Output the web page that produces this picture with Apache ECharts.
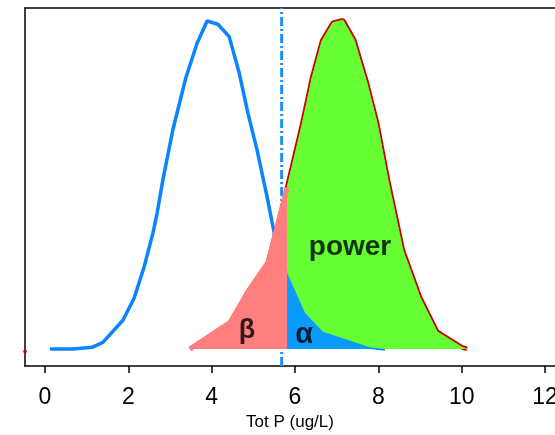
<!DOCTYPE html>
<html>
<head>
<meta charset="utf-8">
<script src="https://cdn.jsdelivr.net/npm/echarts@6/dist/echarts.min.js"></script>
<style>
  html, body { margin: 0; padding: 0; background: #fff; }
  #chart { width: 555px; height: 435px; }
</style>
</head>
<body>
<div id="chart"></div>
<script>
// null distribution (blue line)
var nullX = [0.12, 0.67, 1.13, 1.39, 1.87, 2.14, 2.38, 2.59, 2.69, 2.83, 3.07, 3.38, 3.65, 3.89, 4.15, 4.42, 4.66, 4.87, 5.09, 5.33, 5.52, 5.78, 6.24, 6.67, 7.80, 8.16];
var nullY = [0, 0, 0.002, 0.008, 0.035, 0.062, 0.100, 0.141, 0.165, 0.206, 0.267, 0.330, 0.372, 0.399, 0.395, 0.380, 0.336, 0.287, 0.242, 0.185, 0.136, 0.096, 0.044, 0.021, 0.002, 0];
// alternative distribution (red line)
var altX = [3.48, 4.44, 4.90, 5.35, 5.78, 6.17, 6.41, 6.65, 6.91, 7.15, 7.42, 7.73, 7.97, 8.23, 8.59, 9.00, 9.41, 10.01, 10.13];
var altY = [0, 0.032, 0.072, 0.105, 0.190, 0.273, 0.330, 0.375, 0.397, 0.400, 0.376, 0.323, 0.275, 0.206, 0.120, 0.063, 0.021, 0.002, 0];
// critical value
var critLine = 5.68;
var critFill = 5.81;
var xTicks = [0, 2, 4, 6, 8, 10, 12];

var yMin = -0.0207, yMax = 0.4148;

function pairs(xs, ys) {
    var out = [];
    for (var i = 0; i < xs.length; i++) out.push([xs[i], ys[i]]);
    return out;
}
// interpolate a curve at x
function valAt(xs, ys, x) {
    for (var i = 0; i < xs.length - 1; i++) {
        if (x >= xs[i] && x <= xs[i + 1]) {
            var t = (x - xs[i]) / (xs[i + 1] - xs[i]);
            return ys[i] + t * (ys[i + 1] - ys[i]);
        }
    }
    return 0;
}
// piece of a curve left or right of the cut
function piece(xs, ys, cut, side) {
    var out = [];
    var yc = valAt(xs, ys, cut);
    if (side == 'right') out.push([cut, yc]);
    for (var i = 0; i < xs.length; i++) {
        if ((side == 'left' && xs[i] < cut) || (side == 'right' && xs[i] > cut)) out.push([xs[i], ys[i]]);
    }
    if (side == 'left') out.push([cut, yc]);
    return out;
}

var nullData = pairs(nullX, nullY);
var altData = pairs(altX, altY);

var chart = echarts.init(document.getElementById('chart'));
var font = '"Liberation Sans", Arial, sans-serif';

var option = {
    animation: false,
    grid: { left: 25, right: 0, top: 8, bottom: 69, outerBoundsMode: 'none', containLabel: false },
    xAxis: [{
        type: 'value',
        min: -0.48,
        max: 12.24,
        position: 'bottom',
        name: 'Tot P (ug/L)',
        nameLocation: 'middle',
        nameGap: 44,
        nameTextStyle: { fontFamily: font, fontSize: 17, color: '#000' },
        axisLine: { show: true, onZero: false, lineStyle: { color: '#000', width: 1.5 } },
        axisTick: { show: true, length: 7, customValues: xTicks, lineStyle: { color: '#000', width: 1.5 } },
        axisLabel: { customValues: xTicks, margin: 20, fontFamily: font, fontSize: 23, color: '#000' },
        splitLine: { show: false }
    }, {
        type: 'value',
        min: -0.48,
        max: 12.24,
        position: 'top',
        axisLine: { show: true, onZero: false, lineStyle: { color: '#000', width: 1.5 } },
        axisTick: { show: false },
        axisLabel: { show: false },
        splitLine: { show: false }
    }],
    yAxis: {
        type: 'value',
        min: yMin,
        max: yMax,
        axisLine: { show: true, onZero: false, lineStyle: { color: '#000', width: 1.5 } },
        axisTick: { show: false },
        axisLabel: { show: false },
        splitLine: { show: false }
    },
    series: [
        {
            type: 'line',
            data: [[critLine, yMin], [critLine, yMax]],
            symbol: 'none',
            lineStyle: { color: '#1a8cff', width: 3, type: [9, 3, 2, 3] },
            z: 1
        },
        {
            type: 'line',
            data: nullData,
            symbol: 'none',
            lineStyle: { color: '#0a84ff', width: 3.5 },
            z: 2
        },
        {
            type: 'line',
            data: altData,
            symbol: 'none',
            lineStyle: { color: '#cc0000', width: 4.5 },
            z: 3
        },
        {
            type: 'line',
            data: piece(altX, altY, critFill, 'right'),
            symbol: 'none',
            lineStyle: { color: '#66ff33', width: 1 },
            areaStyle: { color: '#66ff33', opacity: 1 },
            z: 4
        },
        {
            type: 'line',
            data: piece(altX, altY, critFill, 'left'),
            symbol: 'none',
            lineStyle: { color: '#ff7f7f', width: 5 },
            areaStyle: { color: '#ff7f7f', opacity: 1 },
            z: 5
        },
        {
            type: 'line',
            data: piece(nullX, nullY, critFill, 'right'),
            symbol: 'none',
            lineStyle: { width: 0 },
            areaStyle: { color: '#0a9bff', opacity: 1 },
            z: 6
        },
        {
            // region labels
            type: 'scatter',
            symbolSize: 0,
            z: 10,
            data: [
                { value: [4.85, 0.023], label: { formatter: 'β', fontSize: 27 } },
                { value: [6.22, 0.017], label: { formatter: 'α', fontSize: 29 } },
                { value: [7.32, 0.124], label: { formatter: 'power', fontSize: 28 } }
            ],
            label: {
                show: true,
                position: 'inside',
                color: '#000',
                fontWeight: 'bold',
                fontFamily: font
            }
        },
        {
            type: 'scatter',
            data: [[-0.48, -0.005]],
            symbol: 'triangle',
            symbolRotate: 180,
            symbolSize: 5,
            itemStyle: { color: '#cc0000' },
            z: 11
        }
    ]
};
chart.setOption(option);
</script>
</body>
</html>
